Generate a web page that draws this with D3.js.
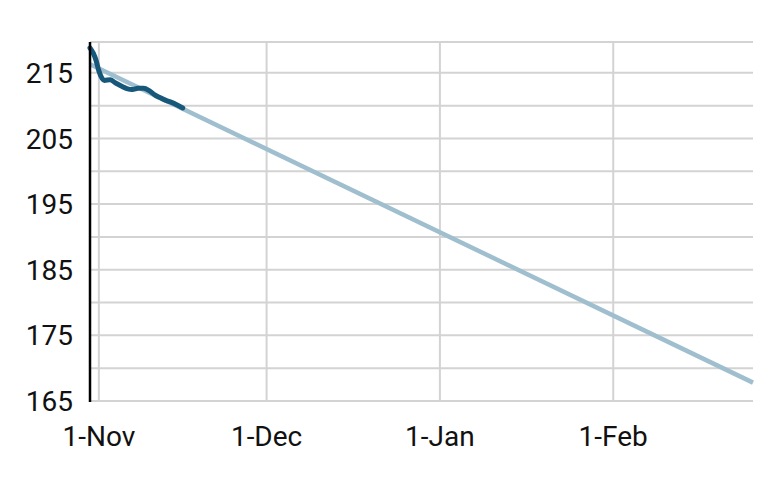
<!DOCTYPE html>
<html>
<head>
<meta charset="utf-8">
<script src="https://d3js.org/d3.v7.min.js"></script>
<style>
  body { margin: 0; background: #fff; }
  text { font-family: Roboto, sans-serif; }
</style>
</head>
<body>
<div id="chart"></div>
<script>
// actual values (dark line)
var actualDates = ["2020-10-30T10:00", "2020-10-31T00:00", "2020-10-31T12:00", "2020-11-01", "2020-11-02",
  "2020-11-03", "2020-11-04", "2020-11-05", "2020-11-06", "2020-11-07", "2020-11-08", "2020-11-09",
  "2020-11-10", "2020-11-11", "2020-11-12", "2020-11-13", "2020-11-14", "2020-11-15", "2020-11-16"];
var actualValues = [218.8, 218.0, 216.9, 215.3, 213.85, 213.95, 213.45, 213.0, 212.6, 212.45, 212.65,
  212.65, 212.3, 211.65, 211.2, 210.8, 210.5, 210.1, 209.65];

// trend line
var trendDates = ["2020-10-30T10:00", "2021-02-26"];
var trendValues = [216.3, 167.8];

var yTicks = [165, 170, 175, 180, 185, 190, 195, 200, 205, 210, 215];
var yLabels = [165, 175, 185, 195, 205, 215];
var xTicks = ["2020-11-01", "2020-12-01", "2021-01-01", "2021-02-01"];

var width = 777, height = 480;
var mLeft = 90, mRight = 753, mTop = 42, mBottom = 401;

var parse = function(s) { return new Date(s); };

var x = d3.scaleTime()
  .domain([parse("2020-10-30T10:00"), parse("2021-02-26")])
  .range([mLeft, mRight]);

var y = d3.scaleLinear()
  .domain([165, 219.7])
  .range([mBottom, mTop]);

var svg = d3.select("#chart")
  .append("svg")
  .attr("width", width)
  .attr("height", height);

// horizontal grid
svg.append("g")
  .selectAll("line")
  .data(yTicks)
  .enter()
  .append("line")
  .attr("x1", mLeft)
  .attr("x2", mRight)
  .attr("y1", function(d) { return y(d); })
  .attr("y2", function(d) { return y(d); })
  .attr("stroke", "#d3d3d3")
  .attr("stroke-width", 2);

// top border line
svg.append("line")
  .attr("x1", mLeft).attr("x2", mRight)
  .attr("y1", mTop).attr("y2", mTop)
  .attr("stroke", "#d3d3d3")
  .attr("stroke-width", 2);

// vertical grid
svg.append("g")
  .selectAll("line")
  .data(xTicks)
  .enter()
  .append("line")
  .attr("x1", function(d) { return x(parse(d)); })
  .attr("x2", function(d) { return x(parse(d)); })
  .attr("y1", mTop)
  .attr("y2", mBottom)
  .attr("stroke", "#d3d3d3")
  .attr("stroke-width", 2);

// y labels
svg.append("g")
  .selectAll("text")
  .data(yLabels)
  .enter()
  .append("text")
  .attr("x", 73)
  .attr("y", function(d) { return y(d); })
  .attr("dy", "0.36em")
  .attr("text-anchor", "end")
  .attr("font-size", 28)
  .attr("fill", "#111")
  .text(function(d) { return d; });

// x labels
var fmt = d3.timeFormat("%-d-%b");
svg.append("g")
  .selectAll("text")
  .data(xTicks)
  .enter()
  .append("text")
  .attr("x", function(d) { return x(parse(d)); })
  .attr("y", 446)
  .attr("text-anchor", "middle")
  .attr("font-size", 28)
  .attr("fill", "#111")
  .text(function(d) { return fmt(parse(d)); });

// trend line
var trend = trendDates.map(function(d, i) { return { date: parse(d), value: trendValues[i] }; });
svg.append("path")
  .datum(trend)
  .attr("fill", "none")
  .attr("stroke", "#9fbfcf")
  .attr("stroke-width", 4.5)
  .attr("d", d3.line()
    .x(function(d) { return x(d.date); })
    .y(function(d) { return y(d.value); }));

// actual line
var actual = actualDates.map(function(d, i) { return { date: parse(d), value: actualValues[i] }; });
svg.append("path")
  .datum(actual)
  .attr("fill", "none")
  .attr("stroke", "#17587a")
  .attr("stroke-width", 5)
  .attr("stroke-linecap", "round")
  .attr("d", d3.line()
    .curve(d3.curveMonotoneX)
    .x(function(d) { return x(d.date); })
    .y(function(d) { return y(d.value); }));

// y axis line
svg.append("line")
  .attr("x1", mLeft).attr("x2", mLeft)
  .attr("y1", mTop).attr("y2", mBottom + 1)
  .attr("stroke", "#000")
  .attr("stroke-width", 2.5);
</script>
</body>
</html>
